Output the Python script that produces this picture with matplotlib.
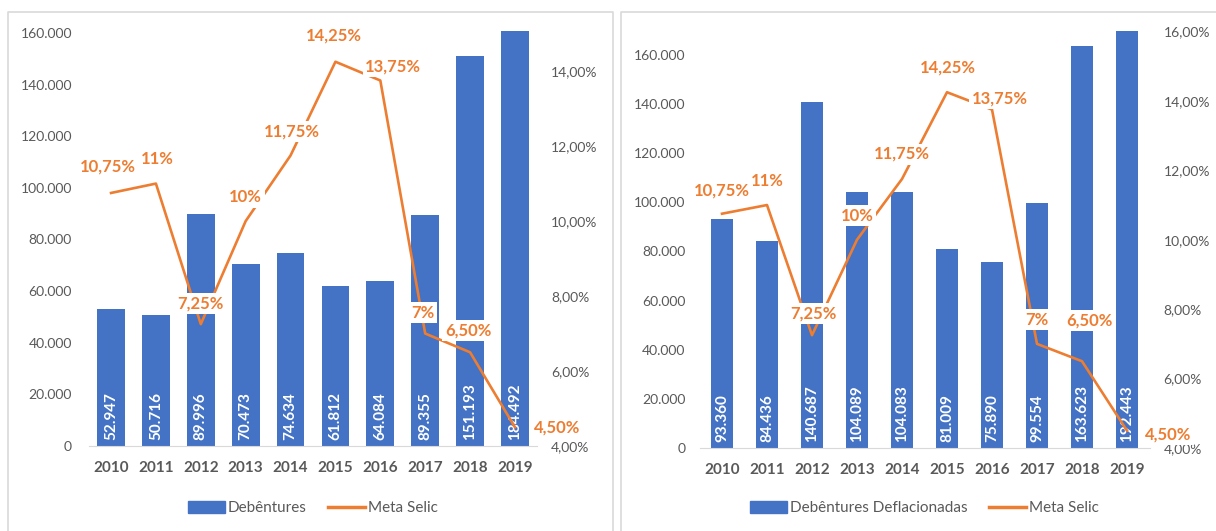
import matplotlib
matplotlib.use("Agg")
import matplotlib.pyplot as plt
from matplotlib.lines import Line2D
from matplotlib.patches import Patch
from matplotlib.ticker import FuncFormatter, MultipleLocator

plt.rcParams['font.family'] = ['Lato', 'DejaVu Sans']

anos = ['2010', '2011', '2012', '2013', '2014', '2015', '2016', '2017', '2018', '2019']
debentures = [52947, 50716, 89996, 70473, 74634, 61812, 64084, 89355, 151193, 184492]
deflacionadas = [93360, 84436, 140687, 104089, 104083, 81009, 75890, 99554, 163623, 192443]
selic = [10.75, 11, 7.25, 10, 11.75, 14.25, 13.75, 7, 6.5, 4.5]
selic_txt = ['10,75%', '11%', '7,25%', '10%', '11,75%', '14,25%', '13,75%', '7%', '6,50%', '4,50%']

# deslocamento dos rótulos da selic (pixels)
offs_esq = [(-3, 26), (1, 25), (0, 21), (0, 24), (1, 24), (-2, 26), (13, 14), (-2, 21), (-2, 22), (42, 0)]
offs_dir = [(0, 23), (0, 24), (1, 22), (0, 24), (0, 25), (1, 25), (8, 11), (0, 24), (7, 41), (41, -4)]

AZUL = '#4472C4'
LARANJA = '#ED7D31'
CINZA = '#595959'

W, H = 1216, 531
fig = plt.figure(figsize=(W / 100, H / 100), dpi=100)


def milhar(v, pos=None):
    return '{:,.0f}'.format(v).replace(',', '.')


def pct(v, pos=None):
    return '{:.2f}%'.format(v).replace('.', ',')


def painel(rect, valores, nome, largura, ymax, y2max, offs, ypad):
    ax = fig.add_axes(rect)
    x = list(range(len(anos)))
    ax.bar(x, valores, width=largura, color=AZUL, zorder=2)
    ax.set_xlim(-0.5, 9.5)
    ax.set_ylim(0, ymax)
    ax.yaxis.set_major_locator(MultipleLocator(20000))
    ax.yaxis.set_major_formatter(FuncFormatter(milhar))
    ax.set_xticks(x)
    ax.set_xticklabels(anos, fontweight='bold', fontsize=11, color=CINZA)
    ax.tick_params(axis='x', length=0, pad=11)
    ax.tick_params(axis='y', length=0, pad=ypad, labelsize=10, labelcolor=CINZA)
    for s in ['top', 'right', 'left']:
        ax.spines[s].set_visible(False)
    ax.spines['bottom'].set_color('#D9D9D9')
    for xi, v in zip(x, valores):
        ax.annotate(milhar(v), (xi, 0), xytext=(0, 6), textcoords='offset pixels',
                    rotation=90, ha='center', va='bottom', color='white',
                    fontweight='bold', fontsize=11, zorder=3)

    ax2 = ax.twinx()
    ax2.plot(x, selic, color=LARANJA, lw=1.9, zorder=2)
    ax2.set_ylim(4, y2max)
    ax2.yaxis.set_major_locator(MultipleLocator(2))
    ax2.yaxis.set_major_formatter(FuncFormatter(pct))
    ax2.tick_params(axis='y', length=0, pad=10, labelsize=10, labelcolor=CINZA)
    for s in ax2.spines.values():
        s.set_visible(False)
    for xi, v, t, (dx, dy) in zip(x, selic, selic_txt, offs):
        ax2.annotate(t, (xi, v), xytext=(dx, dy), textcoords='offset pixels',
                     ha='center', va='center', color=LARANJA, fontweight='bold',
                     fontsize=12, zorder=5,
                     bbox=dict(boxstyle='square,pad=0.15', fc='white', ec='none'))

    cx = rect[0] + rect[2] / 2
    ax.legend([Patch(color=AZUL), Line2D([0], [0], color=LARANJA, lw=2.5)],
              [nome, 'Meta Selic'], loc='center', bbox_to_anchor=(cx, 0.043),
              bbox_transform=fig.transFigure, ncol=2, frameon=False,
              fontsize=11, labelcolor=CINZA, handlelength=2.4, handleheight=0.8,
              handletextpad=0.2, columnspacing=1.4)
    return ax, ax2


painel([88.6 / W, 0.1601, 448.8 / W, 0.7815], debentures, 'Debêntures', 0.62,
       160775, 15.07, offs_esq, 12)
painel([699.5 / W, 0.1563, 450 / W, 0.7844], deflacionadas, 'Debêntures Deflacionadas', 0.49,
       169567, 16, offs_dir, 10)

# molduras dos dois gráficos (a parte de baixo fica fora da imagem)
borda = '#D9D9D9'
for xs, ys in [([8, 8, 613, 613], [545, 12, 12, 545]), ([621, 621, 1225], [545, 12, 12])]:
    fig.add_artist(Line2D([v / W for v in xs], [1 - v / H for v in ys],
                          color=borda, lw=1.2, transform=fig.transFigure))

fig.savefig('out.png', dpi=100)
